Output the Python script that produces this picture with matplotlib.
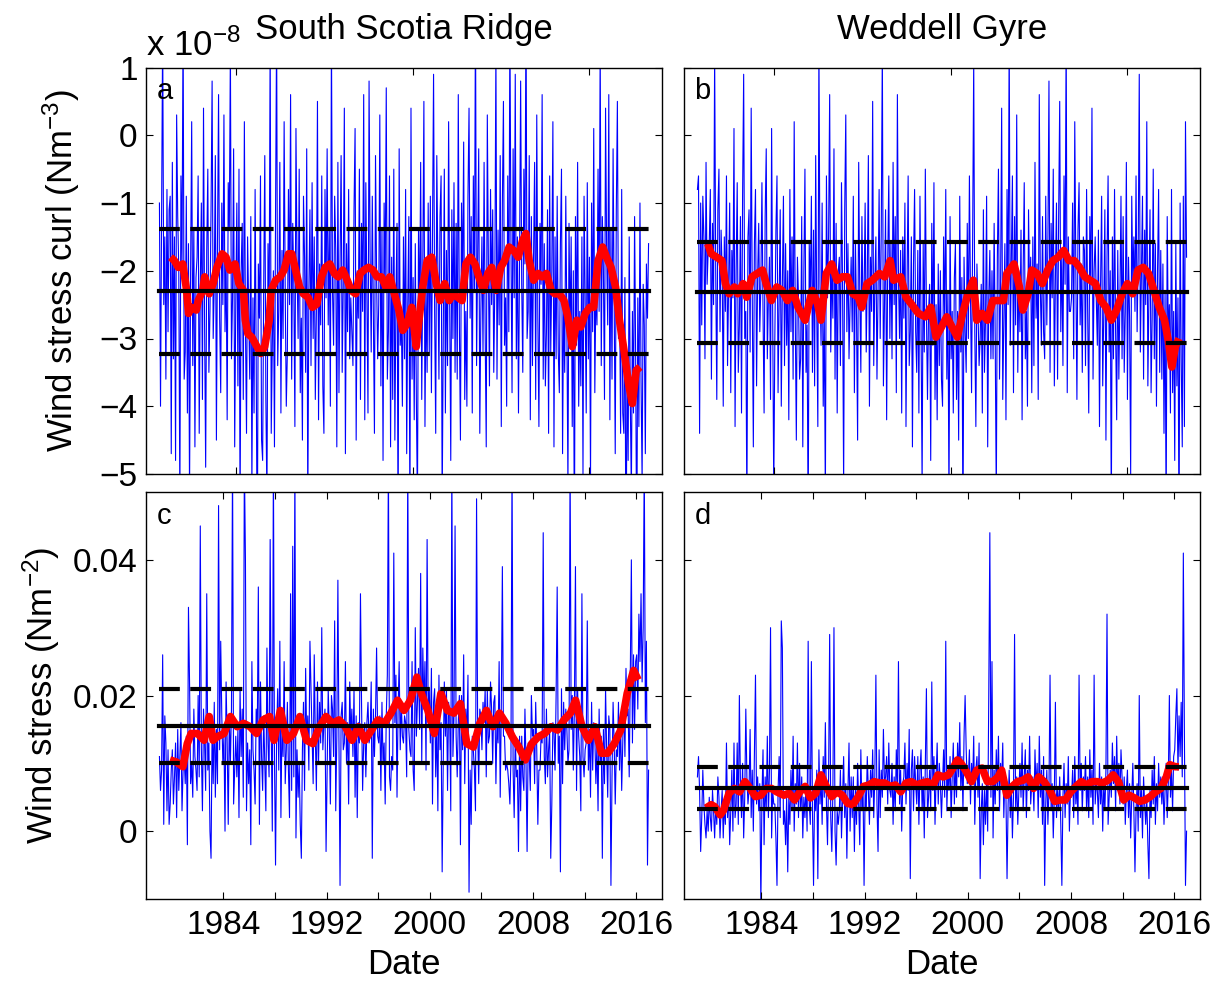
import numpy as np
import matplotlib
matplotlib.use('Agg')
import matplotlib.pyplot as plt

plt.rcParams['font.family'] = 'Liberation Sans'
plt.rcParams['mathtext.fontset'] = 'custom'
plt.rcParams['mathtext.rm'] = 'Liberation Sans'
plt.rcParams['mathtext.it'] = 'Liberation Sans:italic'

# monthly series, Jan 1979 - Dec 2016 (one row per year)
# wind stress curl, units of 1e-8 N m^-3
curl_ssr = [
    [-1.0, -4.0, -1.2, 1.6, -2.5, -1.5, -3.6, -0.8, -2.9, -1.1, -0.9, -4.7],
    [-0.4, -3.3, -1.5, -4.8, 0.3, -1.2, -2.0, -5.5, -0.6, -1.9, 1.8, -3.6],
    [-3.2, -0.9, -4.1, -1.6, -5.3, -2.0, 0.2, -3.4, -1.4, -4.6, -2.1, -1.8],
    [-0.6, -4.4, -2.2, -1.0, -3.9, 0.4, -2.8, -4.9, -1.7, -0.5, -3.5, -2.6],
    [-1.1, 0.8, -3.0, -2.2, -0.3, -4.5, -1.6, 0.6, -2.7, -3.8, -1.0, -2.5],
    [0.3, -2.9, -1.8, -4.2, -0.7, -1.4, 1.3, -3.3, -2.4, -0.2, -4.6, -2.5],
    [-1.0, -3.7, -0.5, -5.6, -2.0, -1.3, -3.9, 0.2, -2.8, -4.4, -1.5, -2.6],
    [-3.6, -1.2, -5.2, -2.4, -4.1, -0.8, -3.3, -6.5, -1.9, -2.7, -0.6, -4.5],
    [-4.8, -2.2, -0.3, -3.9, -5.4, -1.6, -2.9, 1.5, -4.4, -3.1, -2.0, -4.6],
    [-1.2, 1.6, -3.4, -2.6, -0.4, -4.1, -1.7, -3.0, 0.2, -2.3, -4.0, -3.2],
    [-0.8, -2.5, 0.6, -3.6, -1.3, -2.2, -4.3, 0.1, -1.9, -3.0, -0.5, -3.8],
    [-2.7, -4.5, -0.9, -1.8, -3.5, -0.2, -5.6, -2.3, -1.1, -3.4, -0.7, -3.0],
    [-1.5, -3.9, -2.6, 0.5, -4.2, -1.9, -2.8, -0.6, -3.7, -4.4, -0.8, -2.4],
    [-0.2, -2.8, -1.4, -4.0, 1.5, -2.3, -3.1, -0.9, -1.7, -4.6, -0.4, -3.8],
    [-1.9, -0.3, -3.5, -2.2, 0.4, -4.7, -1.6, -2.9, -0.8, -3.3, -2.4, -2.9],
    [-3.4, -1.1, 0.1, -4.5, -2.0, -2.7, -0.5, -3.9, -1.3, -2.6, 0.6, -4.2],
    [-0.7, -2.4, -4.1, 0.8, -1.8, -3.2, -0.9, -2.6, -4.4, -0.3, -2.1, -3.3],
    [-2.5, 0.3, -3.7, -1.4, -4.8, -1.0, -2.2, 0.7, -3.6, -2.9, -0.6, -4.6],
    [-1.8, -3.9, -0.5, -4.5, -2.4, -1.3, -6.0, -0.2, -3.1, -2.7, -4.0, -1.5],
    [-3.3, -0.8, -4.7, -2.5, -1.2, -5.8, 0.4, -3.6, -2.1, -4.2, -1.6, -3.9],
    [-5.5, -1.4, -2.8, -0.4, -3.9, -1.9, 0.5, -4.3, -2.2, -3.5, -1.0, -3.2],
    [-0.9, -3.8, -1.5, 0.9, -2.6, -4.4, -0.3, -2.0, -3.6, -1.2, -0.6, -5.5],
    [-2.9, -0.5, -4.1, -1.7, -3.4, 0.2, -2.5, -4.8, -1.1, -3.0, -0.7, -3.5],
    [-1.3, -3.6, 0.6, -2.8, -4.5, -1.0, -2.2, -0.1, -3.9, -2.6, -4.0, -0.9],
    [0.4, -2.7, -1.2, -4.1, -0.6, -2.3, 1.9, -3.4, -1.8, -0.2, -4.4, -2.6],
    [-1.5, -3.2, -0.4, -2.9, -4.6, 0.3, -1.9, -3.7, -0.8, -2.5, -1.1, -3.5],
    [-2.2, 1.3, -3.6, -1.4, -2.8, -0.3, -4.3, -1.0, 0.5, -3.1, -2.4, -4.0],
    [-0.6, -2.9, 1.7, -1.6, -3.8, -0.2, -2.4, 0.9, -3.3, -1.5, -4.1, -1.8],
    [0.8, -2.2, -3.5, -0.5, -1.9, 2.0, -3.0, -2.6, -0.3, -4.2, -1.2, -3.4],
    [-1.8, -0.4, -3.9, 0.3, -2.7, -4.3, -1.3, -2.2, 0.6, -3.6, -1.6, -3.7],
    [-2.9, -1.1, -4.4, -0.6, -3.2, -2.0, 0.2, -4.6, -1.5, -3.3, -0.9, -3.2],
    [-3.8, -1.6, -0.5, -4.7, -2.4, -3.5, -0.9, -2.8, -5.2, -1.3, -3.0, -1.5],
    [-4.3, -2.0, -6.2, -1.2, -3.1, -0.4, -4.0, -2.6, -3.7, -1.5, -5.0, -0.9],
    [-2.4, -4.1, -0.7, -3.3, -1.8, -5.1, -1.0, -2.9, 0.1, -3.8, -2.2, -2.8],
    [-0.5, -2.6, 1.4, -3.4, -1.2, -2.0, -3.9, 0.4, -1.7, -2.8, 0.6, -4.2],
    [-1.4, -3.6, -0.2, -2.5, -4.7, -1.1, 0.5, -3.0, -2.3, -4.4, -0.8, -4.1],
    [-4.4, -2.1, -6.8, -3.2, -4.8, -1.5, -3.9, -5.3, -2.6, -4.1, -1.2, -3.3],
    [-6.4, -2.4, -4.3, -1.0, -3.6, -5.1, -2.2, -2.8, -4.7, -1.9, -2.7, -1.6],
]
curl_wg = [
    [-0.8, -0.6, -4.4, -1.0, -2.8, -0.9, -1.5, -3.3, -0.4, -2.2, -1.7, -1.6],
    [-0.8, -3.6, -1.3, -2.5, 1.2, -2.0, -3.9, -1.1, -0.5, -2.9, -1.4, -2.0],
    [-4.0, -1.5, -2.6, -0.6, -3.4, -2.2, -1.0, -3.8, -1.7, -2.4, 0.1, -4.3],
    [-2.0, -0.7, -3.5, -2.8, -1.2, -4.1, -0.9, 0.9, -3.0, -2.6, -5.6, -1.5],
    [-1.1, -3.2, 0.4, -2.4, -4.6, -1.6, -0.8, -3.7, -2.1, -1.3, -2.9, -2.2],
    [-0.7, -2.6, -4.1, -1.2, -0.2, -3.3, -2.4, -1.8, -3.9, 0.1, -2.7, -5.3],
    [-3.0, -1.4, -0.6, -3.8, -2.5, -1.1, -4.0, -2.2, -0.9, -3.4, -1.6, -3.1],
    [-2.0, -4.2, -0.8, -2.9, -1.5, -3.6, 0.2, -2.7, -4.5, -1.8, -2.4, -3.6],
    [-3.3, -1.2, -4.6, -2.0, -0.5, -3.5, -2.8, -5.8, -1.6, -2.4, -0.9, -3.5],
    [-1.4, -3.7, -0.3, -2.6, -4.3, 1.4, -2.2, -3.1, -1.0, -4.0, -2.7, -5.4],
    [-0.6, -2.4, -1.5, 0.6, -3.2, -1.9, -2.7, -0.2, -3.6, -1.3, -4.1, -2.0],
    [-1.8, -3.4, -0.7, -2.2, -5.2, -1.1, 0.3, -2.9, -1.6, -3.3, -2.5, -1.8],
    [-2.9, -0.9, -3.8, -1.6, -2.7, -4.5, -0.4, -2.3, -3.5, -1.2, -2.6, -2.4],
    [-1.0, -3.2, -2.1, -0.3, -4.0, -1.8, -2.6, 0.5, -3.4, -2.2, -1.5, -3.6],
    [-2.3, -0.8, -3.0, -1.4, 1.3, -3.7, -2.5, -1.1, -4.2, -1.9, -0.6, -3.0],
    [-1.6, -3.3, -0.4, -2.5, -1.2, -3.8, 0.6, -2.1, -3.0, -1.7, -4.1, -1.5],
    [-2.7, -1.0, -4.3, -2.2, -0.6, -3.4, -2.9, -1.5, -4.6, -1.9, -0.8, -2.9],
    [-3.5, -1.7, -4.1, -0.9, -2.8, -5.2, -1.6, -3.2, -0.5, -2.6, -3.9, -2.6],
    [-2.2, -4.8, -1.3, -3.1, -0.7, -3.9, -2.5, -4.2, -1.9, -3.4, -2.0, -3.6],
    [-4.0, -1.5, -2.8, -0.8, -3.6, -2.3, -5.5, -1.2, -3.3, -2.6, -4.1, -2.1],
    [-1.6, -3.9, -2.6, -4.5, -0.9, -3.2, -2.1, -6.0, -1.8, -2.9, -3.5, -1.3],
    [-3.0, -0.6, -2.4, -3.8, -1.5, 1.1, -2.9, -4.3, -1.9, -2.6, -3.4, -3.0],
    [-2.2, -4.1, -1.1, -3.5, -2.7, -0.9, -4.6, -2.4, -1.7, -3.3, -2.0, -3.3],
    [-1.3, -3.0, -5.4, -1.8, -0.5, -3.6, -2.2, 0.4, -3.9, -2.7, -1.6, -4.2],
    [-0.8, -2.5, 1.5, -3.1, -1.9, -0.6, -3.8, -1.2, -2.8, 0.3, -3.5, -2.0],
    [-2.9, -1.4, -4.2, -2.0, -0.7, -3.3, -2.6, -4.0, -1.1, -2.4, -1.8, -3.8],
    [-1.5, -3.4, -0.4, -2.7, -1.9, -3.9, 0.6, -2.3, -3.1, -1.2, -2.9, -3.3],
    [-0.9, -2.8, -1.6, 0.8, -3.5, -1.3, -2.4, -0.5, -3.7, -2.1, -1.0, -3.6],
    [-1.2, 0.5, -2.9, -1.7, -3.4, -0.6, -2.2, 1.6, -3.8, -1.5, -2.6, -2.6],
    [-2.4, -1.0, -3.3, 0.2, -2.0, -3.9, -1.4, -0.7, -2.8, -1.9, -3.5, -1.5],
    [-1.7, -3.4, -0.8, -2.6, -4.1, -1.2, -2.3, 0.4, -3.6, -2.0, -1.5, -2.4],
    [-3.1, -1.4, -4.3, -2.2, -0.9, -3.7, -2.6, -1.1, -4.5, -1.8, -0.6, -3.2],
    [-2.0, -5.6, -1.5, -3.3, -0.8, -2.9, -4.2, -1.7, -3.6, -2.4, -0.9, -3.3],
    [-1.2, -3.5, -2.6, -0.4, -3.9, -1.8, -2.7, -5.0, -0.9, -2.2, -1.5, -2.6],
    [-0.6, -2.9, -1.8, 0.9, -3.2, -2.1, -0.9, -3.6, -1.4, -2.5, 0.2, -3.7],
    [-2.4, -1.1, -3.8, -2.7, -0.5, -3.3, -1.6, -4.0, -2.0, -0.8, -3.5, -1.7],
    [-3.6, -1.9, -4.4, -2.3, -5.7, -1.2, -3.0, -2.5, -4.1, -0.8, -3.8, -2.6],
    [-4.8, -1.6, -3.7, -2.4, -6.0, -1.0, -3.3, -4.6, -0.9, -4.3, 0.2, -1.8],
]
# wind stress, units of 1e-3 N m^-2
tau_ssr = [
    [11, 6, 9, 26, 1, 17, 13, 3, 12, 1, 4, 9],
    [12, 4, 8, 13, 2, 15, 6, 11, 16, 3, 9, 11],
    [7, 14, -2, 33, 22, 7, 10, 5, 18, 11, 9, 6],
    [20, 8, 45, 12, 3, 18, 13, 6, 35, 9, 13, 0],
    [-4, 15, 7, 19, 5, 15, 7, 48, 12, 28, 17, 10],
    [14, 0, 22, 13, 1, 17, 10, 18, 55, 4, 9, 14],
    [8, 15, 2, 21, 11, 18, 5, 55, 40, 3, 13, 7],
    [12, -2, 25, 12, 9, 4, 18, 14, 36, 1, 22, 11],
    [6, 17, 10, 3, 27, 13, 8, 43, 15, 0, 55, 11],
    [-5, 14, 21, 9, 28, 2, 16, 11, 25, 7, 12, 19],
    [9, 2, 35, 6, 42, 8, 55, -1, 12, 5, 10, 1],
    [-4, 12, 19, 6, 24, 13, 17, 9, 28, 21, 14, 7],
    [26, 14, 6, 22, 10, 19, 13, 30, 12, 16, 18, -3],
    [9, 21, 15, 4, 20, 18, 11, 31, 3, 14, 37, 13],
    [-8, 17, 19, 12, 13, 25, 10, 16, 4, 22, 14, 18],
    [11, 21, 5, 17, 2, 16, 13, 35, 19, 6, 13, 16],
    [8, 16, 19, 13, 14, 22, -4, 18, 11, 17, 27, 14],
    [13, 17, 6, 19, 10, 13, 4, 17, 23, 55, 8, 6],
    [11, 9, 41, 16, 23, 5, 18, 25, 12, 19, 14, 13],
    [17, 16, 8, 55, 15, 12, 11, 25, 9, 6, 30, 14],
    [19, 24, 15, 38, 10, 27, 18, 25, 9, 43, 16, 21],
    [13, 24, 4, 19, 21, 8, 16, 3, 23, 12, 16, -6],
    [10, 22, 14, 21, 6, 19, 17, 3, 55, 11, 17, 45],
    [14, 8, 16, 20, -2, 20, 12, 26, 7, 18, 14, 23],
    [-9, 9, 1, 14, 12, 9, 3, 49, 15, 7, 18, 17],
    [12, 19, 16, 21, 8, 21, 13, 14, 22, 18, 10, 19],
    [20, 7, 16, 13, 25, 5, 18, 39, 14, 14, 9, 10],
    [9, 7, 4, 11, 55, 9, 2, 14, 8, 9, -3, 14],
    [3, 14, 8, 6, 18, 10, -3, 13, 11, 6, 20, 14],
    [15, 7, 19, 12, 1, 9, 9, 14, 13, 44, 11, 7],
    [18, 8, 12, 15, -4, 4, 16, 15, 9, 20, 36, 10],
    [14, -6, 21, 7, 19, 12, 18, 15, 10, 12, 55, 15],
    [20, 9, 18, 39, 6, 21, 14, 11, 3, 35, 11, 8],
    [12, 13, 31, 9, 15, 5, 19, 9, 16, 14, 7, 13],
    [3, 18, 10, 14, -4, 15, 7, 21, 12, 5, 17, 15],
    [-8, 8, 19, 13, 4, 12, 11, 19, 9, 16, 6, 13],
    [20, 11, 24, 17, 18, 8, 23, 40, 13, 26, 15, 25],
    [26, 18, 32, 25, 35, 22, 30, 55, 16, 28, -5, 9],
]
tau_wg = [
    [8, 11, 6, -3, 2, 9, 4, 1, -1, 3, 0, 5],
    [2, 0, 6, 3, -1, 4, 1, 8, 5, -1, 3, 6],
    [-1, 4, 1, 13, 2, 6, -2, 3, 9, 0, 13, 2],
    [4, 13, 1, 20, 7, 2, 10, -1, 5, 18, 8, 4],
    [6, 15, 2, 9, 0, 11, 23, 4, 8, 3, 7, -11],
    [5, 12, -2, 8, 3, 14, 2, 9, 30, -1, 6, 4],
    [4, -1, -8, 6, 11, 2, 31, 27, 1, 3, -2, 5],
    [-6, 5, 1, 9, 3, 14, 0, 7, 4, 13, 2, 10],
    [3, 8, -1, 5, 2, 7, 0, 28, 4, 1, 25, 3],
    [-8, 6, 3, 9, -7, 12, 4, 8, 1, 11, 5, 16],
    [4, -2, 8, 29, 2, -3, 6, 30, 0, -5, 3, 1],
    [3, 9, -1, 5, 11, 2, 7, -4, 6, 13, 0, 8],
    [2, 8, -3, 6, 1, 10, 4, -2, 12, 3, 7, -8],
    [6, 3, 11, 6, 1, 9, 5, 12, 2, 8, 23, 4],
    [-3, 12, 2, 9, 5, 15, 7, 8, 11, 4, 13, 6],
    [5, 10, 1, 8, 3, 12, 6, 25, 4, 9, 0, 7],
    [8, 13, 4, 10, 6, 15, -7, 9, 12, 3, 11, 7],
    [4, 11, 1, 9, 12, 3, 8, -1, 10, 21, 2, 5],
    [9, 3, 22, 6, 11, 1, 8, 13, 4, 10, 7, 2],
    [7, 12, 5, 28, 3, 9, 6, 11, 2, 8, 13, 4],
    [10, 5, 13, 8, 16, 6, 11, 3, 14, 20, 12, 7],
    [8, 12, 4, 10, 7, 14, 1, 9, 11, 5, 13, -7],
    [3, 7, -2, 6, 1, 8, 0, 20, 44, 5, 25, -1],
    [9, 4, 12, 6, 14, 3, 10, 7, 13, 2, 8, 5],
    [-7, 4, 9, 2, 7, -1, 5, 29, 3, 8, 1, 6],
    [10, 5, 13, 3, 8, 12, 2, 9, 6, 14, 4, 7],
    [8, 3, 12, 6, 10, 2, 14, 5, 9, 1, 11, -8],
    [4, 9, 1, 6, 23, 3, 7, -1, 5, 19, 2, 6],
    [3, 8, 1, -8, 5, 10, 2, 7, 4, 11, 0, 6],
    [5, 9, 2, 11, 4, 7, 1, 23, 6, 10, 3, 8],
    [6, 11, 3, 8, 2, 12, 5, 9, 1, 23, 4, 7],
    [6, 2, 10, 4, 8, 0, 7, 3, 9, 32, 1, 5],
    [9, 5, 13, 7, 11, 3, 14, 6, 10, 4, 12, 8],
    [4, 8, 1, 6, 9, 2, 7, -1, 5, 10, 3, -6],
    [3, 7, 0, 20, 2, 6, -1, 8, 4, 1, 5, -2],
    [-7, 6, 2, 9, 4, 11, 1, 7, 3, 10, 5, 8],
    [4, 8, 1, 6, 10, 2, 7, 20, 5, 9, 3, 11],
    [12, 17, 21, 9, 17, 11, 19, 8, 41, 14, -8, 0],
]

# running means (year, value)
smooth_curl_ssr = [
    (1979.90, -1.80), (1980.20, -1.85), (1980.50, -1.95), (1980.85, -1.90), (1981.15, -2.29),
    (1981.30, -2.63), (1981.50, -2.54), (1981.90, -2.58), (1982.05, -2.44), (1982.40, -2.29),
    (1982.55, -2.09), (1982.90, -2.34), (1983.20, -2.19), (1983.50, -1.95), (1983.90, -1.75),
    (1984.20, -1.80), (1984.50, -1.99), (1984.90, -1.90), (1985.20, -2.19), (1985.55, -2.29),
    (1985.70, -2.73), (1985.90, -2.93), (1986.20, -2.98), (1986.60, -3.12), (1986.90, -3.22),
    (1987.20, -3.12), (1987.55, -2.73), (1987.70, -2.29), (1988.05, -2.14), (1988.40, -2.09),
    (1988.70, -1.99), (1989.05, -1.75), (1989.30, -1.75), (1989.55, -1.95), (1989.90, -2.24),
    (1990.20, -2.34), (1990.55, -2.39), (1990.90, -2.54), (1991.25, -2.49), (1991.60, -2.09),
    (1991.90, -1.95), (1992.25, -1.90), (1992.60, -2.04), (1992.90, -2.09), (1993.25, -1.99),
    (1993.60, -2.14), (1993.90, -2.29), (1994.25, -2.34), (1994.60, -2.04), (1994.90, -1.99),
    (1995.25, -1.95), (1995.60, -1.99), (1995.90, -2.09), (1996.25, -2.09), (1996.60, -2.24),
    (1996.90, -2.09), (1997.25, -2.34), (1997.60, -2.58), (1997.90, -2.88), (1998.25, -2.78),
    (1998.60, -2.54), (1998.95, -3.12), (1999.10, -2.83), (1999.45, -2.24), (1999.80, -1.85),
    (2000.15, -1.80), (2000.50, -2.19), (2000.80, -2.44), (2001.15, -2.19), (2001.50, -2.44),
    (2001.80, -2.34), (2002.15, -2.39), (2002.50, -2.44), (2002.80, -1.90), (2003.15, -1.80),
    (2003.50, -1.90), (2003.80, -2.09), (2004.15, -2.29), (2004.50, -2.04), (2004.80, -1.95),
    (2005.15, -2.29), (2005.50, -1.95), (2005.80, -1.85), (2006.15, -1.65), (2006.50, -1.70),
    (2006.85, -1.80), (2007.20, -1.55), (2007.45, -1.45), (2007.70, -1.85), (2008.05, -2.14),
    (2008.40, -2.04), (2008.70, -2.09), (2009.05, -2.04), (2009.40, -2.29), (2009.70, -2.34),
    (2010.05, -2.34), (2010.40, -2.44), (2010.70, -2.68), (2011.05, -3.12), (2011.40, -2.73),
    (2011.70, -2.83), (2012.05, -2.63), (2012.40, -2.54), (2012.70, -2.54), (2013.05, -1.85),
    (2013.40, -1.65), (2013.70, -1.80), (2014.05, -1.95), (2014.40, -2.24), (2014.70, -2.73),
    (2015.05, -3.17), (2015.40, -3.66), (2015.70, -3.96), (2016.00, -3.47), (2016.30, -3.42),
]
smooth_curl_wg = [
    (1979.84, -1.60), (1980.11, -1.75), (1980.53, -1.80), (1980.94, -1.85), (1981.21, -2.19),
    (1981.49, -2.34), (1981.90, -2.24), (1982.17, -2.34), (1982.58, -2.19), (1982.86, -2.39),
    (1983.27, -2.09), (1983.68, -2.04), (1984.09, -1.99), (1984.37, -2.19), (1984.78, -2.44),
    (1985.19, -2.24), (1985.60, -2.29), (1986.02, -2.44), (1986.43, -2.29), (1986.84, -2.54),
    (1987.39, -2.73), (1987.94, -2.29), (1988.35, -2.49), (1988.62, -2.73), (1989.03, -2.04),
    (1989.45, -1.90), (1989.86, -2.14), (1990.27, -2.09), (1990.68, -2.09), (1991.09, -2.34),
    (1991.51, -2.39), (1991.78, -2.54), (1992.19, -2.19), (1992.60, -2.14), (1993.15, -2.04),
    (1993.56, -2.09), (1993.98, -1.85), (1994.25, -2.14), (1994.80, -2.09), (1995.21, -2.39),
    (1995.62, -2.49), (1996.17, -2.63), (1996.72, -2.68), (1997.13, -2.54), (1997.54, -2.98),
    (1997.96, -2.83), (1998.37, -2.68), (1998.78, -2.83), (1999.19, -2.98), (1999.60, -2.63),
    (2000.01, -2.34), (2000.43, -2.14), (2000.70, -2.73), (2001.11, -2.63), (2001.52, -2.73),
    (2001.94, -2.44), (2002.35, -2.44), (2002.76, -2.44), (2003.03, -2.04), (2003.58, -1.90),
    (2004.00, -2.24), (2004.27, -2.58), (2004.68, -2.34), (2004.96, -1.99), (2005.37, -2.04),
    (2005.78, -2.19), (2006.19, -1.99), (2006.60, -1.85), (2007.01, -1.80), (2007.43, -1.70),
    (2007.84, -1.85), (2008.25, -1.85), (2008.66, -1.95), (2009.07, -2.09), (2009.49, -2.14),
    (2009.90, -2.19), (2010.31, -2.44), (2010.72, -2.54), (2011.13, -2.73), (2011.54, -2.58),
    (2011.96, -2.34), (2012.37, -2.19), (2012.78, -2.34), (2013.19, -1.99), (2013.60, -1.95),
    (2014.01, -2.04), (2014.43, -2.29), (2014.84, -2.54), (2015.25, -2.73), (2015.54, -3.03),
    (2015.82, -3.42), (2016.09, -3.12), (2016.37, -3.00),
]
smooth_tau_ssr = [
    (1979.85, 10.5), (1980.35, 10.2), (1980.86, 9.5), (1981.20, 12.9), (1981.50, 14.4),
    (1982.00, 14.4), (1982.50, 13.4), (1982.90, 16.9), (1983.20, 13.4), (1983.50, 13.9),
    (1984.05, 14.4), (1984.55, 16.9), (1985.06, 15.4), (1985.56, 15.9), (1986.07, 15.4),
    (1986.57, 14.4), (1987.08, 16.4), (1987.58, 16.9), (1987.92, 13.4), (1988.42, 17.8),
    (1988.92, 13.4), (1989.43, 14.4), (1989.93, 16.9), (1990.44, 13.4), (1990.94, 12.9),
    (1991.45, 15.4), (1991.95, 16.9), (1992.45, 15.9), (1992.96, 16.4), (1993.46, 15.4),
    (1993.97, 13.4), (1994.47, 15.4), (1994.97, 13.4), (1995.48, 14.9), (1995.98, 16.4),
    (1996.49, 15.9), (1996.99, 17.4), (1997.50, 19.3), (1998.00, 17.8), (1998.50, 19.3),
    (1999.00, 22.7), (1999.35, 20.3), (1999.85, 17.8), (2000.35, 14.4), (2000.86, 20.3),
    (2001.36, 17.8), (2001.87, 17.4), (2002.37, 18.8), (2002.87, 12.9), (2003.38, 12.4),
    (2003.88, 15.9), (2004.39, 17.8), (2004.89, 15.4), (2005.40, 17.4), (2005.90, 15.9),
    (2006.40, 13.9), (2006.90, 12.4), (2007.40, 10.5), (2007.90, 12.9), (2008.40, 13.9),
    (2008.90, 14.4), (2009.40, 15.4), (2009.90, 14.9), (2010.40, 16.4), (2010.90, 17.4),
    (2011.30, 19.3), (2011.80, 15.4), (2012.30, 13.4), (2012.80, 15.4), (2013.30, 11.5),
    (2013.80, 11.5), (2014.30, 12.9), (2014.80, 14.9), (2015.30, 20.3), (2015.80, 23.7),
    (2016.15, 22.3),
]
smooth_tau_wg = [
    (1979.70, 3.4), (1980.11, 3.9), (1980.39, 3.6), (1980.80, 2.4), (1981.07, 3.1),
    (1981.49, 5.6), (1981.90, 6.3), (1982.31, 5.8), (1982.72, 7.3), (1983.13, 6.3),
    (1983.54, 5.1), (1983.96, 5.3), (1984.37, 6.3), (1984.78, 6.3), (1985.19, 5.8),
    (1985.74, 5.3), (1986.15, 5.6), (1986.56, 4.6), (1986.98, 5.8), (1987.39, 6.6),
    (1987.80, 4.9), (1988.21, 5.6), (1988.62, 8.3), (1989.03, 6.6), (1989.45, 5.1),
    (1989.86, 5.8), (1990.27, 5.3), (1990.68, 4.1), (1991.09, 3.9), (1991.51, 5.1),
    (1991.92, 6.6), (1992.33, 6.8), (1992.74, 7.3), (1993.15, 7.1), (1993.56, 7.1),
    (1993.98, 6.6), (1994.39, 6.8), (1994.80, 5.8), (1995.21, 7.1), (1995.62, 7.3),
    (1996.03, 6.8), (1996.45, 7.1), (1996.86, 7.3), (1997.27, 6.6), (1997.68, 8.3),
    (1998.09, 8.0), (1998.51, 8.3), (1998.92, 9.5), (1999.19, 10.5), (1999.47, 10.0),
    (1999.88, 8.8), (2000.29, 7.3), (2000.70, 9.0), (2001.11, 9.3), (2001.52, 7.3),
    (2001.94, 7.3), (2002.35, 8.0), (2002.62, 9.0), (2003.03, 5.3), (2003.45, 6.6),
    (2003.86, 7.3), (2004.27, 7.5), (2004.68, 8.0), (2005.09, 6.3), (2005.50, 8.0),
    (2005.92, 7.3), (2006.33, 6.1), (2006.74, 4.4), (2007.15, 4.6), (2007.56, 4.6),
    (2007.98, 5.8), (2008.39, 6.6), (2008.80, 7.3), (2009.21, 6.8), (2009.62, 7.3),
    (2010.03, 7.3), (2010.45, 7.1), (2010.86, 7.5), (2011.27, 8.3), (2011.68, 7.3),
    (2012.09, 4.6), (2012.50, 5.3), (2012.92, 4.9), (2013.33, 4.4), (2013.74, 4.6),
    (2014.15, 5.1), (2014.56, 5.8), (2014.97, 6.3), (2015.39, 8.0), (2015.66, 9.8),
    (2016.07, 9.5), (2016.37, 9.5),
]

# mean and mean +/- 1 std lines
levels_curl_ssr = [-2.30, -1.38, -3.23]
levels_curl_wg = [-2.32, -1.57, -3.06]
levels_tau_ssr = [0.0155, 0.0210, 0.0101]
levels_tau_wg = [0.0064, 0.0095, 0.0033]

titles = ['South Scotia Ridge', 'Weddell Gyre']
letters = ['a', 'b', 'c', 'd']
top_xticks = [1984.98, 1998.66, 2012.36]
bottom_xticks = list(range(1984, 2017, 4))
bottom_xlabels = [str(y) if (y - 1984) % 8 == 0 else '' for y in bottom_xticks]

fig = plt.figure(figsize=(12.26, 9.81), dpi=100)
W, H = 1226.0, 981.0
rects = [
    [146 / W, 1 - 474 / H, 516 / W, 406.5 / H],
    [684 / W, 1 - 474 / H, 516 / W, 406.5 / H],
    [146 / W, 1 - 899 / H, 516 / W, 407 / H],
    [684 / W, 1 - 899 / H, 516 / W, 407 / H],
]
axes = [fig.add_axes(r) for r in rects]

series = [
    (np.array(curl_ssr).ravel(), smooth_curl_ssr, levels_curl_ssr),
    (np.array(curl_wg).ravel(), smooth_curl_wg, levels_curl_wg),
    (np.array(tau_ssr, dtype=float).ravel() * 1e-3, smooth_tau_ssr, levels_tau_ssr),
    (np.array(tau_wg, dtype=float).ravel() * 1e-3, smooth_tau_wg, levels_tau_wg),
]

for i, ax in enumerate(axes):
    raw, smooth, lev = series[i]
    t = 1979 + (np.arange(len(raw)) + 0.5) / 12.0
    ts, vs = np.array(smooth).T
    if i >= 2:
        vs = vs * 1e-3
    ax.plot(t, raw, color='#0000ff', lw=0.8, zorder=1)
    ax.plot(ts, vs, color='#ff0000', lw=5.5, solid_capstyle='butt', zorder=2)
    ax.plot([t[0], t[-1]], [lev[0], lev[0]], color='k', lw=3, zorder=3)
    for v in lev[1:]:
        ax.plot([t[0], t[-1]], [v, v], color='k', lw=3, dashes=(5, 2.5), zorder=3)

    ax.set_xlim(1978, 2018)
    ax.tick_params(direction='in', top=True, right=True, length=5, width=0.8,
                   labelsize=24)
    ax.tick_params(axis='x', pad=8)
    ax.tick_params(axis='y', pad=6)
    for sp in ax.spines.values():
        sp.set_linewidth(1.0)
    ax.text(0.02, 0.922, letters[i], transform=ax.transAxes, fontsize=21,
            va='baseline', ha='left')

    if i < 2:
        ax.set_ylim(-5, 1)
        ax.set_xticks(top_xticks)
        ax.set_xticklabels([])
        ax.set_yticks(range(-5, 2))
        ax.set_title(titles[i], fontsize=25, pad=20.5)
    else:
        ax.set_ylim(-0.01, 0.05)
        ax.set_xticks(bottom_xticks)
        ax.set_xticklabels(bottom_xlabels)
        ax.set_yticks([0, 0.02, 0.04])
        ax.set_yticklabels(['0', '0.02', '0.04'])
        ax.set_xlabel('Date', fontsize=25, labelpad=5)
    if i in (1, 3):
        ax.set_yticklabels([])

axes[0].set_yticklabels(['\u22125', '\u22124', '\u22123', '\u22122', '\u22121', '0', '1'])
axes[0].set_ylabel(r'Wind stress curl (Nm$^{-3}$)', fontsize=25)
axes[0].yaxis.set_label_coords(-0.124, 0.5)
axes[2].set_ylabel(r'Wind stress (Nm$^{-2}$)', fontsize=25)
axes[2].yaxis.set_label_coords(-0.163, 0.5)
axes[0].text(0, 1.028, r'x 10$^{-8}$', transform=axes[0].transAxes, fontsize=25,
             ha='left', va='baseline')

fig.savefig('out.png', dpi=100)
